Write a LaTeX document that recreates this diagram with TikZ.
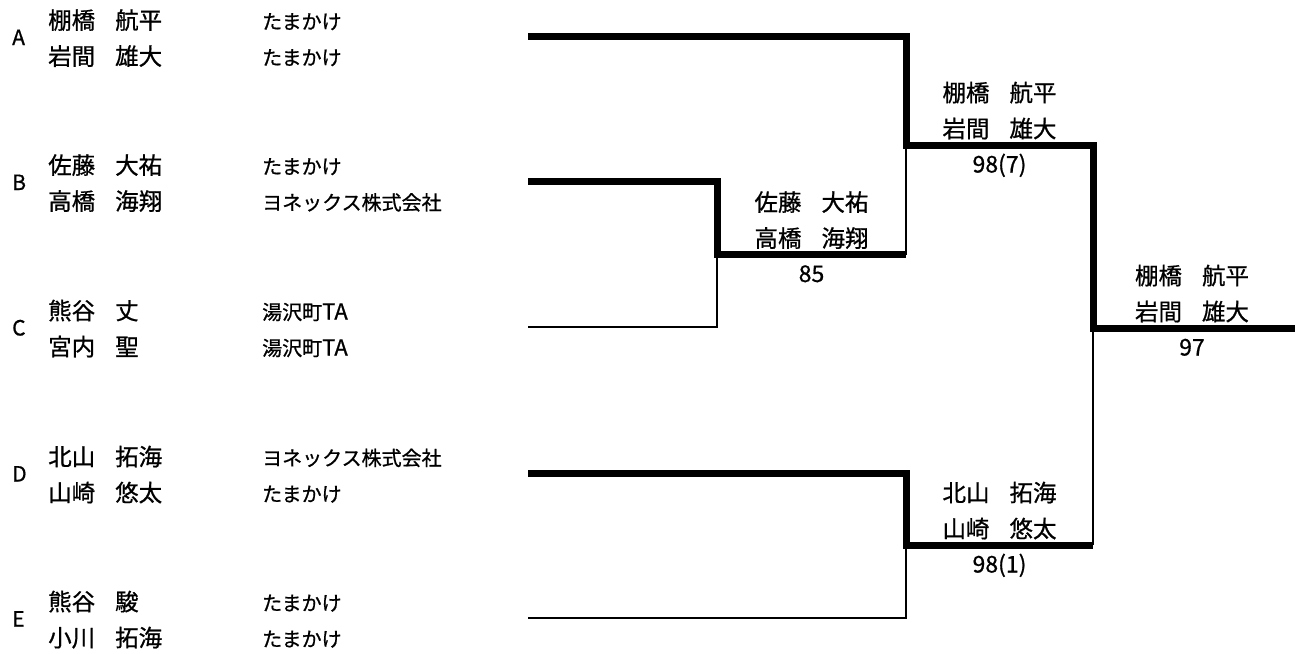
\documentclass[tikz,border=0pt]{standalone}
\usepackage{fontspec}
\setmainfont{Noto Sans CJK JP}[FakeBold=0.8]
\newcommand\pname[2]{#1\hspace{0.85em}#2}
\begin{document}
\begin{tikzpicture}[x=1pt,y=-1pt,
  thickln/.style={line width=7pt},
  thinln/.style={line width=2.7pt},
  letter/.style={anchor=base west, inner sep=0pt, font=\fontsize{21}{23}\selectfont},
  player/.style={anchor=base west, inner sep=0pt, font=\fontsize{23.5}{26}\selectfont},
  club/.style={anchor=base west, inner sep=0pt, font=\fontsize{20}{22}\selectfont},
  winner/.style={anchor=base, inner sep=0pt, font=\fontsize{23.5}{26}\selectfont},
  score/.style={anchor=base, inner sep=0pt, font=\fontsize{23}{25}\selectfont}]
\useasboundingbox (0,0) rectangle (1295,653);

% entries
\node[letter] (la) at (12,45) {A};
\node[player] (a1n) at (48,29) {\pname{棚橋}{航平}};
\node[player] (a2n) at (48,65) {\pname{岩間}{雄大}};
\node[club] (a1c) at (262,29) {たまかけ};
\node[club] (a2c) at (262,65) {たまかけ};

\node[letter] (lb) at (12,190) {B};
\node[player] (b1n) at (48,174) {\pname{佐藤}{大祐}};
\node[player] (b2n) at (48,210) {\pname{高橋}{海翔}};
\node[club] (b1c) at (262,174) {たまかけ};
\node[club] (b2c) at (262,210) {ヨネックス株式会社};

\node[letter] (lc) at (12,335.5) {C};
\node[player] (c1n) at (48,319.5) {\pname{熊谷}{丈}};
\node[player] (c2n) at (48,355.5) {\pname{宮内}{聖}};
\node[club] (c1c) at (262,319.5) {湯沢町\fontsize{22}{24}\selectfont TA};
\node[club] (c2c) at (262,355.5) {湯沢町\fontsize{22}{24}\selectfont TA};

\node[letter] (ld) at (12,481.5) {D};
\node[player] (d1n) at (48,465.5) {\pname{北山}{拓海}};
\node[player] (d2n) at (48,501.5) {\pname{山崎}{悠太}};
\node[club] (d1c) at (262,465.5) {ヨネックス株式会社};
\node[club] (d2c) at (262,501.5) {たまかけ};

\node[letter] (le) at (12,626.5) {E};
\node[player] (e1n) at (48,610.5) {\pname{熊谷}{駿}};
\node[player] (e2n) at (48,646.5) {\pname{小川}{拓海}};
\node[club] (e1c) at (262,610.5) {たまかけ};
\node[club] (e2c) at (262,646.5) {たまかけ};

% bracket coordinates
\coordinate (a0) at (528,36.5);
\coordinate (a1) at (906,36.5);
\coordinate (r2t) at (906,145);
\coordinate (r2te) at (1093,145);
\coordinate (fin) at (1093,328);
\coordinate (fine) at (1295,328);
\coordinate (b0) at (528,181.5);
\coordinate (b1) at (717,181.5);
\coordinate (r1) at (717,254.5);
\coordinate (r1e) at (906,254.5);
\coordinate (c0) at (528,327);
\coordinate (c1) at (717,327);
\coordinate (d0) at (528,473);
\coordinate (d1) at (906,473);
\coordinate (r2b) at (906,545);
\coordinate (r2be) at (1093,545);
\coordinate (e0) at (528,618);
\coordinate (e1) at (906,618);

% thin lines (losers)
\draw[thinln] (c0) -- (c1) -- (r1);
\draw[thinln] (r1e) -- (r2t);
\draw[thinln] (e0) -- (e1) -- (r2b);
\draw[thinln] (r2be) -- (fin);

% thick lines (winners)
\draw[thickln] (a0) -- (a1) -- (r2t) -- (r2te) -- (fin) -- (fine);
\draw[thickln] (b0) -- (b1) -- (r1) -- (r1e);
\draw[thickln] (d0) -- (d1) -- (r2b) -- (r2be);

% winners and scores
\node[winner] (w1a) at (811.5,211) {\pname{佐藤}{大祐}};
\node[winner] (w1b) at (811.5,247) {\pname{高橋}{海翔}};
\node[score] (s1) at (811.5,282) {85};

\node[winner] (w2a) at (999.5,101.5) {\pname{棚橋}{航平}};
\node[winner] (w2b) at (999.5,137.5) {\pname{岩間}{雄大}};
\node[score] (s2) at (999.5,172.5) {98(7)};

\node[winner] (w3a) at (999.5,501.5) {\pname{北山}{拓海}};
\node[winner] (w3b) at (999.5,537.5) {\pname{山崎}{悠太}};
\node[score] (s3) at (999.5,572.5) {98(1)};

\node[winner] (w4a) at (1192,284.5) {\pname{棚橋}{航平}};
\node[winner] (w4b) at (1192,320.5) {\pname{岩間}{雄大}};
\node[score] (s4) at (1192,355.5) {97};
\end{tikzpicture}
\end{document}
